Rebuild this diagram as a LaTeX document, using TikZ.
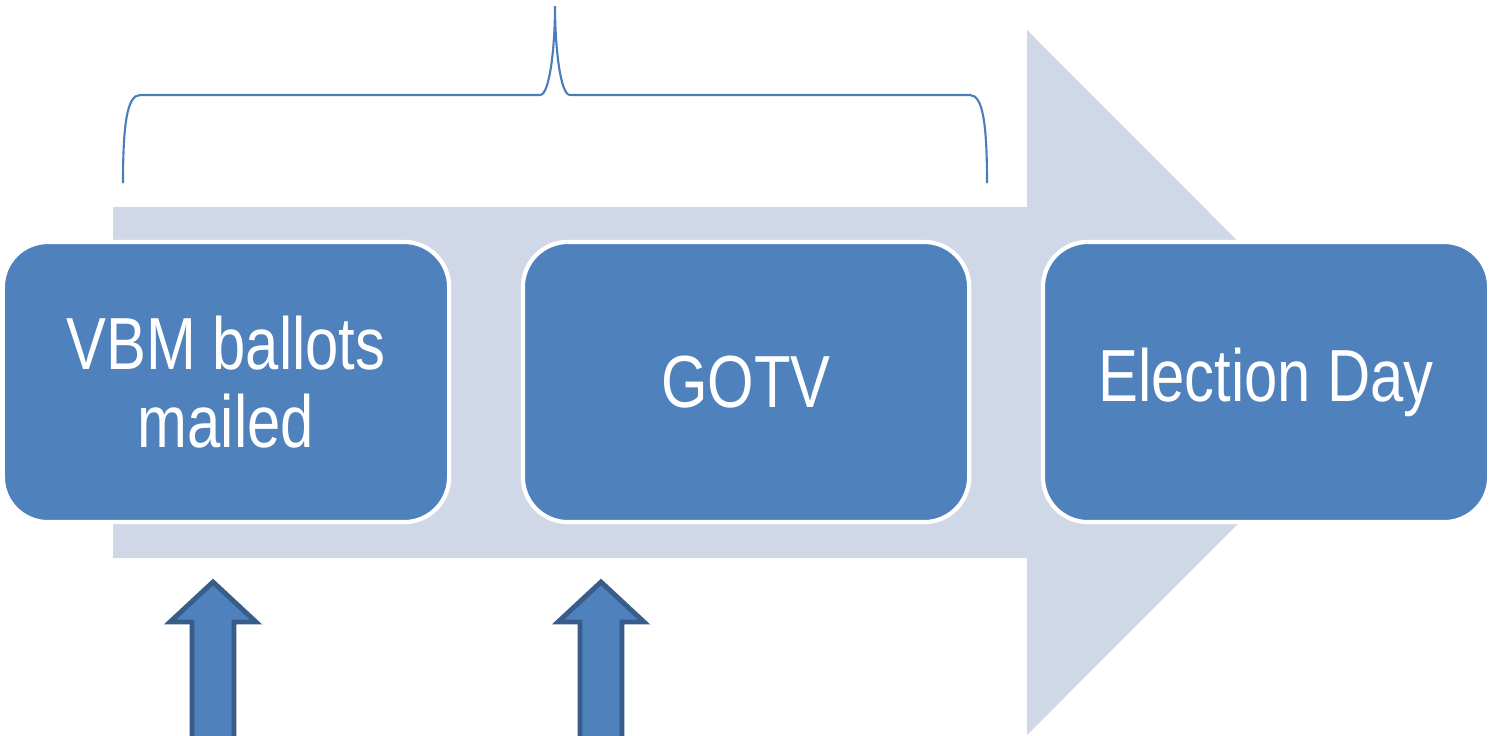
\documentclass[tikz,border=0pt]{standalone}
\usepackage{fontspec}
\newfontfamily\stagefont{Liberation Sans}[FakeStretch=0.81]
\usetikzlibrary{positioning}
\definecolor{stageblue}{HTML}{4F81BD}
\definecolor{stageedge}{HTML}{385D8A}
\definecolor{timeline}{HTML}{D0D8E8}
\definecolor{bracecol}{HTML}{4A7EBB}
\tikzset{
  stage/.style={draw=white, line width=1.2pt, fill=stageblue, rounded corners=0.45cm,
    minimum width=4.46cm, minimum height=2.8cm, align=center, text=white,
    font=\stagefont\fontsize{21}{22}\selectfont},
  pointer/.style={draw=stageedge, line width=1.4pt, fill=stageblue, line join=miter}
}

\begin{document}
\begin{tikzpicture}[x=0.01cm,y=-0.01cm,node distance=0.695cm]
    \useasboundingbox (0,0) rectangle (1489,735);

    % timeline arrow behind the stages
    \fill[timeline] (113,207) -- (1027,207) -- (1027,30) -- (1379,382.5)
        -- (1027,735) -- (1027,558) -- (113,558) -- cycle;

    \node[stage]                (vbm)  at (226,382) {VBM ballots\\mailed};
    \node[stage, right=of vbm]  (gotv)              {GOTV};
    \node[stage, right=of gotv] (eday)              {Election Day};

    % brace over the first two stages
    \draw[bracecol, line width=0.6pt]
        (123,183) .. controls (123,125) and (127,95) .. (140,95) -- (540,95)
        .. controls (550,95) and (555,45) .. (555,6)
        .. controls (555,45) and (560,95) .. (570,95) -- (970,95)
        .. controls (983,95) and (987,125) .. (987,183);

    % up arrows below
    \foreach \ax in {213,601}
      \draw[pointer] (\ax,582) -- ++(43,40) -- ++(-22,0) -- (\ax+21,740)
          -- (\ax-21,740) -- (\ax-21,622) -- (\ax-43,622) -- cycle;
\end{tikzpicture}
\end{document}
